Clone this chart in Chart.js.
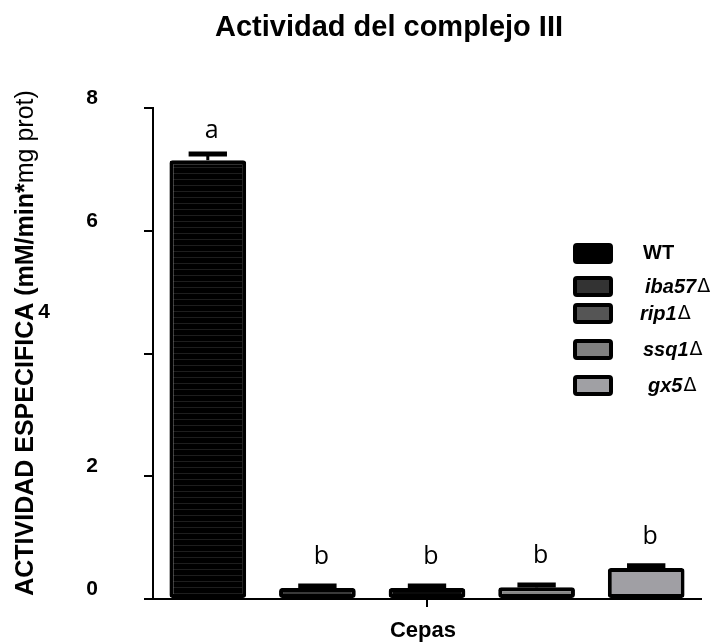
<!DOCTYPE html>
<html>
<head>
<meta charset="utf-8">
<script src="https://cdn.jsdelivr.net/npm/chart.js@4.4.1/dist/chart.umd.min.js"></script>
<style>
html,body{margin:0;padding:0;background:#fff;}
#wrap{width:717px;height:643px;}
</style>
</head>
<body>
<div id="wrap"><canvas id="c" width="717" height="643"></canvas></div>
<script>
// ---- data ----
const categories = ['WT', 'iba57', 'rip1', 'ssq1', 'gx5'];
const values = [7.15, 0.18, 0.18, 0.19, 0.505];
const errors = [0.10, 0.03, 0.03, 0.04, 0.035];
const sigLetters = ['a', 'b', 'b', 'b', 'b'];
const yTicks = [0, 2, 4, 6, 8];
const legendLabels = ['WT', 'iba57', 'rip1', 'ssq1', 'gx5'];
const italicLegend = [false, true, true, true, true];
const barColors = ['#000000', '#393939', '#0a0a0a', '#858585', '#a09fa4'];
const legendColors = ['#000000', '#333333', '#555555', '#808080', '#a0a0a4'];

const FONT = 'Arial, "Liberation Sans", sans-serif';

// textured fill for the WT bar
function stripePattern() {
  const p = document.createElement('canvas');
  p.width = 8; p.height = 6;
  const g = p.getContext('2d');
  g.fillStyle = '#000'; g.fillRect(0, 0, 8, 6);
  g.fillStyle = '#1e1e1e'; g.fillRect(0, 5, 8, 1);
  return document.getElementById('c').getContext('2d').createPattern(p, 'repeat');
}
const fills = barColors.slice();
fills[0] = stripePattern();

const decor = {
  id: 'decor',
  afterDatasetsDraw(chart) {
    const ctx = chart.ctx;
    const ys = chart.scales.y;
    const meta = chart.getDatasetMeta(0);
    ctx.save();
    // error bars
    meta.data.forEach((bar, i) => {
      const top = ys.getPixelForValue(values[i]);
      const capY = ys.getPixelForValue(values[i] + errors[i]);
      const half = bar.width * 0.25;
      ctx.strokeStyle = '#000';
      ctx.lineWidth = 3;
      ctx.beginPath(); ctx.moveTo(bar.x, top); ctx.lineTo(bar.x, capY); ctx.stroke();
      ctx.lineWidth = 5;
      ctx.beginPath(); ctx.moveTo(bar.x - half, capY); ctx.lineTo(bar.x + half, capY); ctx.stroke();
      // significance letters
      ctx.fillStyle = '#000';
      ctx.font = '25px "Open Sans", Arial, sans-serif';
      ctx.textAlign = 'center';
      ctx.textBaseline = 'alphabetic';
      const gap = sigLetters[i] === 'a' ? 16 : 22;
      ctx.fillText(sigLetters[i], bar.x + 4, capY - gap);
    });
    // x-axis centre tick
    const cx = (chart.chartArea.left + chart.chartArea.right) / 2;
    ctx.lineWidth = 2;
    ctx.beginPath(); ctx.moveTo(cx, chart.chartArea.bottom); ctx.lineTo(cx, chart.chartArea.bottom + 8); ctx.stroke();

    // y tick labels
    ctx.font = 'bold 21px ' + FONT;
    ctx.textBaseline = 'middle';
    yTicks.forEach(v => {
      if (v === 4) {
        ctx.textAlign = 'center';
        ctx.fillText(String(v), 44, 312);
      } else {
        ctx.textAlign = 'right';
        ctx.fillText(String(v), 98, ys.getPixelForValue(v) - 10);
      }
    });

    // title
    ctx.font = 'bold 29px ' + FONT;
    ctx.textAlign = 'center';
    ctx.textBaseline = 'alphabetic';
    ctx.fillText('Actividad del complejo III', 389, 36);

    // x title
    ctx.font = 'bold 22px ' + FONT;
    ctx.textBaseline = 'middle';
    ctx.fillText('Cepas', cx - 4, 631);

    // y title (mixed weight), rotated
    ctx.save();
    ctx.translate(26, 343);
    ctx.rotate(-Math.PI / 2);
    const p1 = 'ACTIVIDAD ESPECIFICA (mM/min*';
    const p2 = 'mg prot)';
    const fb = 'bold 25px ' + FONT, fn = '25px ' + FONT;
    ctx.font = fb; const w1 = ctx.measureText(p1).width;
    ctx.font = fn; const w2 = ctx.measureText(p2).width;
    const start = -(w1 + w2) / 2;
    ctx.textAlign = 'left';
    ctx.textBaseline = 'middle';
    ctx.font = fb; ctx.fillText(p1, start, 0);
    ctx.font = fn; ctx.fillText(p2, start + w1, 0);
    ctx.restore();

    // legend
    const rowsY = [253, 286, 313, 349, 385];
    const textX = [643, 645, 640, 643, 648];
    legendLabels.forEach((lab, i) => {
      const y = rowsY[i];
      ctx.fillStyle = legendColors[i];
      ctx.strokeStyle = '#000';
      ctx.lineWidth = 4;
      ctx.beginPath();
      ctx.roundRect(575, y - 8, 36, 17, 2);
      ctx.fill(); ctx.stroke();
      ctx.fillStyle = '#000';
      ctx.textAlign = 'left';
      ctx.textBaseline = 'middle';
      if (italicLegend[i]) {
        ctx.font = 'italic bold 20px ' + FONT;
        ctx.fillText(lab, textX[i], y + 1);
        const w = ctx.measureText(lab).width;
        ctx.font = '19px "DejaVu Sans", ' + FONT;
        ctx.fillText('\u0394', textX[i] + w + 1, y + 1);
      } else {
        ctx.font = 'bold 20px ' + FONT;
        ctx.fillText(lab, textX[i], y);
      }
    });
    ctx.restore();
  }
};

new Chart(document.getElementById('c'), {
  type: 'bar',
  data: {
    labels: categories,
    datasets: [{
      data: values,
      backgroundColor: fills,
      borderColor: '#000',
      borderWidth: 4,
      borderRadius: 3,
      borderSkipped: false,
      barPercentage: 0.7,
      categoryPercentage: 1.0
    }]
  },
  options: {
    responsive: false,
    animation: false,
    devicePixelRatio: 1,
    layout: { padding: { left: 0, right: 16, top: 108, bottom: 44 } },
    plugins: { legend: { display: false }, tooltip: { enabled: false }, title: { display: false } },
    scales: {
      x: {
        grid: { display: false },
        ticks: { display: false },
        border: { display: true, color: '#000', width: 2 },
        afterFit(s) { s.height = 0; }
      },
      y: {
        min: 0, max: 8,
        ticks: { display: false, stepSize: 2 },
        grid: { display: true, drawOnChartArea: false, drawTicks: true, tickLength: 9, color: '#000', lineWidth: 2 },
        border: { display: true, color: '#000', width: 2 },
        afterFit(s) { s.width = 153; }
      }
    }
  },
  plugins: [decor]
});
</script>
</body>
</html>
